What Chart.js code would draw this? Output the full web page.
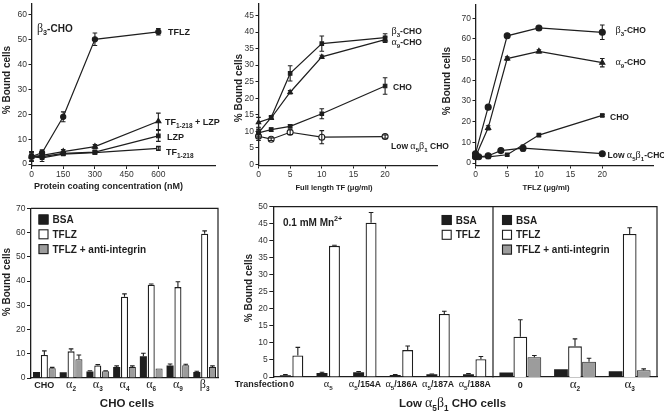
<!DOCTYPE html>
<html><head><meta charset="utf-8">
<script src="https://cdn.jsdelivr.net/npm/chart.js@4/dist/chart.umd.min.js"></script>
<style>
html,body{margin:0;padding:0;background:#fff;width:664px;height:413px;overflow:hidden}
#wrap{position:relative;width:664px;height:413px;background:#fff}
canvas{position:absolute;left:0;top:0}
</style>
</head><body><div id="wrap"></div>
<script>
// ---------------- DATA ----------------
// Panel A: beta3-CHO binding vs protein coating concentration (nM)
const aConc = [0, 50, 150, 300, 600];
const aXTicks = [0, 150, 300, 450, 600];
const aYTicks = [0, 10, 20, 30, 40, 50, 60];
const aNames = ['TFLZ', 'TF_{1-218} + LZP', 'LZP', 'TF_{1-218}'];
const aTFLZ = [3, 4.5, 19, 50.2, 53.2];
const aTFLZErr = [2, 1.2, 2, 2.5, 1.3];
const aTFLZP = [3, 3.5, 5, 7, 17.2];
const aTFLZPErr = [2, 1, 0.8, 0.8, 3.3];
const aLZP = [3, 3, 4.3, 4.8, 11.3];
const aLZPErr = [1.5, 1, 0.7, 0.7, 2.2];
const aTF = [3, 2.5, 4, 4.6, 6.3];
const aTFErr = [1.5, 1.5, 0.5, 0.5, 0.8];

// Panel B: full length TF (ug/ml)
const bConc = [0, 2, 5, 10, 20];
const bXTicks = [0, 5, 10, 15, 20];
const bYTicks = [0, 5, 10, 15, 20, 25, 30, 35, 40, 45];
const bNames = ['β_{3}-CHO', 'α_{9}-CHO', 'CHO', 'Low α_{5}β_{1} CHO'];
const bB3 = [9.5, 14.2, 27.5, 36.5, 38.3];
const bB3Err = [1, 0.5, 2.3, 2.3, 1.2];
const bA9 = [12.7, 14, 21.8, 32.5, 37.7];
const bA9Err = [1.5, 0.4, 0.5, 0.5, 0.8];
const bCHO = [9.5, 10.5, 11.5, 15.3, 23.7];
const bCHOErr = [1.5, 0.5, 0.5, 1.5, 2.5];
const bLow = [8.5, 7.6, 9.7, 8.2, 8.4];
const bLowErr = [1.3, 0.4, 0.7, 2, 0.5];

// Panel C: TFLZ (ug/ml)
const cConc = [0, 2, 5, 10, 20];
const cLowConc = [0, 0.5, 2, 4, 7.5, 20];
const cXTicks = [0, 5, 10, 15, 20];
const cYTicks = [0, 10, 20, 30, 40, 50, 60, 70];
const cNames = ['β_{3}-CHO', 'α_{9}-CHO', 'CHO', 'Low α_{5}β_{1}-CHO'];
const cB3 = [4.5, 27, 61.5, 65.3, 63.2];
const cB3Err = [1, 0.5, 0.8, 0.8, 3.5];
const cA9 = [3, 17, 50.5, 54, 48.5];
const cA9Err = [0.5, 1, 0.8, 0.8, 2];
const cCHO = [3, 3, 4, 13.5, 23];
const cCHOErr = [0.5, 0.5, 0.5, 0.5, 0.5];
const cLow = [3, 3, 3.5, 6, 7.2, 4.5];
const cLowErr = [0.5, 0.5, 0.5, 0.5, 1.5, 0.5];

// Panel D: CHO cells
const dCats = ['CHO', 'α_{2}', 'α_{3}', 'α_{4}', 'α_{6}', 'α_{9}', 'β_{3}'];
const dYTicks = [0, 10, 20, 30, 40, 50, 60, 70];
const groupNames = ['BSA', 'TFLZ', 'TFLZ + anti-integrin'];
const dBSA = [2.5, 2.4, 2.7, 4.5, 9, 5.2, 2.5];
const dBSAErr = [0, 0, 0.3, 0.5, 1.2, 0.6, 0.3];
const dTFLZ = [9.5, 11, 5.2, 33.5, 38.5, 37.5, 59.5];
const dTFLZErr = [1.7, 1, 0.3, 1.2, 0.3, 2.2, 1.2];
const dAnti = [4, 7.7, 2.8, 4.5, 3.9, 5.3, 4.5];
const dAntiErr = [0.4, 1.8, 0.2, 0.5, 0, 0.4, 0.5];

// Panel E: Low a5b1 CHO cells, 0.1 mM Mn2+
const eCats = ['0', 'α_{5}', 'α_{5}/154A', 'α_{5}/186A', 'α_{5}/187A', 'α_{5}/188A'];
const eYTicks = [0, 5, 10, 15, 20, 25, 30, 35, 40, 45, 50];
const eBSA = [0.5, 1.2, 1.4, 0.6, 0.8, 0.8];
const eBSAErr = [0.2, 0.2, 0.2, 0.1, 0.1, 0.2];
const eTFLZ = [6.3, 38.5, 45.3, 7.9, 18.5, 5.2];
const eTFLZErr = [2.4, 0.2, 3, 1.2, 0.8, 0.8];

// Panel F: Low a5b1 CHO cells transfected
const fCats = ['0', 'α_{2}', 'α_{3}'];
const fBSA = [1.3, 2.3, 1.7];
const fBSAErr = [0, 0, 0];
const fTFLZ = [11.8, 9, 42];
const fTFLZErr = [5, 2.2, 1.8];
const fAnti = [5.8, 4.5, 2];
const fAntiErr = [0.5, 1, 0.4];

// ---------------- STYLE / HELPERS ----------------
const SANS = '"Liberation Sans", Arial, Helvetica, sans-serif';
const SERIF = '"Liberation Serif", "DejaVu Serif", serif';
const INK = '#1e1e1e';
const GREY = '#9c9c9c';
const W = 664, H = 413;
const plain = s => s.replace(/[_^]\{([^}]*)\}/g, '$1');

function parseRich(s) {
  const out = []; let buf = '', i = 0;
  const flush = () => { if (buf) { out.push({t: buf, k: 'n'}); buf = ''; } };
  while (i < s.length) {
    const ch = s[i];
    if ((ch === '_' || ch === '^') && s[i + 1] === '{') {
      flush();
      const j = s.indexOf('}', i);
      out.push({t: s.slice(i + 2, j), k: ch === '_' ? 'sub' : 'sup'});
      i = j + 1; continue;
    }
    if (ch === 'α' || ch === 'β') { flush(); out.push({t: ch, k: 'g'}); i++; continue; }
    buf += ch; i++;
  }
  flush();
  return out;
}
function segFont(g, o) {
  const w = o.bold === false ? '' : 'bold ';
  if (g.k === 'g') return (o.size * (o.gs || 1.2)).toFixed(2) + 'px ' + SERIF;
  if (g.k === 'sub' || g.k === 'sup') return w + (o.size * 0.72).toFixed(2) + 'px ' + SANS;
  return w + o.size + 'px ' + SANS;
}
function drawRich(ctx, s, x, y, o) {
  const segs = parseRich(s);
  ctx.save();
  ctx.fillStyle = o.color || INK;
  ctx.textBaseline = 'alphabetic';
  ctx.textAlign = 'left';
  let total = 0;
  segs.forEach(g => { ctx.font = segFont(g, o); g.w = ctx.measureText(g.t).width; total += g.w; });
  ctx.translate(x, y);
  if (o.rot) ctx.rotate(o.rot);
  let cx = o.align === 'center' ? -total / 2 : (o.align === 'right' ? -total : 0);
  const base = o.size * 0.36;
  segs.forEach(g => {
    ctx.font = segFont(g, o);
    let dy = 0;
    if (g.k === 'sub') dy = o.size * 0.3;
    if (g.k === 'sup') dy = -o.size * 0.42;
    ctx.fillText(g.t, cx, base + dy);
    cx += g.w;
  });
  ctx.restore();
}

// ---------------- PLUGINS ----------------
const notesPlugin = {
  id: 'notes',
  afterDraw(chart, args, opts) {
    (opts.items || []).forEach(it => drawRich(chart.ctx, it.s, it.x, it.y, it));
  }
};
const catsPlugin = {
  id: 'cats',
  afterDraw(chart, args, opts) {
    if (!opts.labels) return;
    const xs = chart.scales.x;
    opts.labels.forEach((lab, i) => {
      drawRich(chart.ctx, lab, xs.getPixelForValue(i), opts.y, {size: opts.size || 9, align: 'center', gs: opts.gs || 1.2});
    });
  }
};
const errPlugin = {
  id: 'errs',
  afterDatasetsDraw(chart) {
    const ctx = chart.ctx;
    chart.data.datasets.forEach((ds, di) => {
      if (!ds.err) return;
      const meta = chart.getDatasetMeta(di);
      const ys = chart.scales[meta.yAxisID];
      ctx.save();
      ctx.strokeStyle = INK; ctx.lineWidth = 1.1;
      meta.data.forEach((el, i) => {
        const e = ds.err[i]; if (!e) return;
        const raw = ds.data[i];
        const v = typeof raw === 'object' ? raw.y : raw;
        const x = el.x;
        const top = ys.getPixelForValue(v + e);
        const bot = ds.errUp ? el.y : ys.getPixelForValue(v - e);
        const hw = ds.capHalf || 2.3;
        ctx.beginPath();
        ctx.moveTo(x, top); ctx.lineTo(x, bot);
        ctx.moveTo(x - hw, top); ctx.lineTo(x + hw, top);
        if (!ds.errUp) { ctx.moveTo(x - hw, bot); ctx.lineTo(x + hw, bot); }
        ctx.stroke();
      });
      ctx.restore();
    });
  }
};
const boxPlugin = {
  id: 'box',
  afterDraw(chart, args, opts) {
    if (!opts.on) return;
    const a = chart.chartArea, ctx = chart.ctx;
    ctx.save(); ctx.strokeStyle = INK; ctx.lineWidth = 1.2;
    ctx.beginPath();
    ctx.moveTo(a.left, a.top); ctx.lineTo(a.right, a.top);
    ctx.lineTo(a.right, a.bottom);
    ctx.stroke(); ctx.restore();
  }
};
const keysPlugin = {
  id: 'keys',
  afterDraw(chart, args, opts) {
    if (opts.x === undefined) return;
    const ctx = chart.ctx;
    chart.data.datasets.forEach((ds, i) => {
      const cy = opts.y + i * opts.dy;
      ctx.save();
      ctx.fillStyle = ds.backgroundColor; ctx.strokeStyle = INK; ctx.lineWidth = 1.1;
      ctx.fillRect(opts.x, cy - 5, 10, 10);
      ctx.strokeRect(opts.x + 0.5, cy - 4.5, 9, 9);
      ctx.restore();
      drawRich(ctx, ds.label, opts.x + 14, cy, {size: 10});
    });
  }
};

function newCanvas() {
  const c = document.createElement('canvas');
  c.width = W; c.height = H;
  document.getElementById('wrap').appendChild(c);
  return c;
}

function yScale(cfg, tickLen) {
  return {
    type: 'linear', min: cfg.yMin, max: cfg.yMax, bounds: 'data',
    display: cfg.yHidden ? false : true,
    afterBuildTicks: s => { s.ticks = cfg.yTicks.map(v => ({value: v})); },
    ticks: {font: {family: SANS, size: 8.5}, color: '#333', padding: 1.5},
    grid: {display: true, drawOnChartArea: false, drawTicks: true, tickLength: tickLen, color: INK, lineWidth: 1},
    border: {display: true, color: INK, width: 1.3},
    afterFit: s => { s.width = cfg.yHidden ? 0 : cfg.yW; s.paddingTop = 0; s.paddingBottom = 0; s.paddingLeft = 0; s.paddingRight = 0; }
  };
}

function baseOptions(cfg) {
  return {
    responsive: false, animation: false, events: [],
    layout: {autoPadding: false, padding: {left: cfg.l - (cfg.yHidden ? 0 : cfg.yW), top: cfg.t, right: W - cfg.r, bottom: H - cfg.b - cfg.xH}},
    plugins: {
      legend: {display: false}, tooltip: {enabled: false},
      notes: {items: cfg.notes || []},
      cats: {labels: cfg.cats, y: cfg.catY, size: cfg.catSize, gs: cfg.gs},
      box: {on: !!cfg.box},
      keys: cfg.keys || {}
    }
  };
}

function lineChart(cfg) {
  const opts = baseOptions(cfg);
  opts.scales = {
    x: {
      type: 'linear', min: cfg.xMin, max: cfg.xMax, bounds: 'data',
      afterBuildTicks: s => { s.ticks = cfg.xTicks.map(v => ({value: v})); },
      ticks: {font: {family: SANS, size: 8.5}, color: '#333', padding: 1, maxRotation: 0, autoSkip: false},
      grid: {display: true, drawOnChartArea: false, drawTicks: true, tickLength: 3, color: INK, lineWidth: 1},
      border: {display: true, color: INK, width: 1.3},
      afterFit: s => { s.height = cfg.xH; s.paddingLeft = 0; s.paddingRight = 0; s.paddingTop = 0; s.paddingBottom = 0; }
    },
    y: yScale(cfg, 3)
  };
  return new Chart(newCanvas(), {
    type: 'line',
    data: {datasets: cfg.series.map(s => ({
      label: plain(s.label),
      data: s.x.map((xv, i) => ({x: xv, y: s.y[i]})),
      err: s.err,
      borderColor: INK, borderWidth: 1.2, tension: 0, fill: false, clip: false,
      pointStyle: s.marker, pointRadius: s.r || 2.5,
      pointBackgroundColor: s.open ? '#fff' : INK, pointBorderColor: INK, pointBorderWidth: 1.1
    }))},
    options: opts,
    plugins: [errPlugin, notesPlugin]
  });
}

function barChart(cfg) {
  const opts = baseOptions(cfg);
  opts.scales = {
    x: {
      type: 'category', offset: true,
      ticks: {display: false},
      grid: {display: false},
      border: {display: true, color: INK, width: 1.3},
      afterFit: s => { s.height = cfg.xH; s.paddingLeft = 0; s.paddingRight = 0; s.paddingTop = 0; s.paddingBottom = 0; }
    },
    y: yScale(cfg, 4)
  };
  return new Chart(newCanvas(), {
    type: 'bar',
    data: {
      labels: cfg.cats.map(plain),
      datasets: cfg.series.map(s => ({
        label: s.label, data: s.y, err: s.err, errUp: true, capHalf: 2.3,
        backgroundColor: s.fill, borderColor: INK, borderWidth: s.bw,
        barPercentage: cfg.barPct, categoryPercentage: cfg.catPct
      }))
    },
    options: opts,
    plugins: [errPlugin, notesPlugin, catsPlugin, boxPlugin, keysPlugin]
  });
}

const ROT = -Math.PI / 2;

// ---------------- PANEL A ----------------
lineChart({
  l: 31.5, r: 215, t: 4, b: 166, yW: 28, xH: 14,
  xMin: 0, xMax: 868, yMin: -0.8, yMax: 64.4, xTicks: aXTicks, yTicks: aYTicks,
  series: [
    {label: aNames[0], x: aConc, y: aTFLZ, err: aTFLZErr, marker: 'circle', r: 2.6},
    {label: aNames[1], x: aConc, y: aTFLZP, err: aTFLZPErr, marker: 'triangle', r: 3},
    {label: aNames[2], x: aConc, y: aLZP, err: aLZPErr, marker: 'rect', r: 2.5},
    {label: aNames[3], x: aConc, y: aTF, err: aTFErr, marker: 'rect', r: 2.4, open: true}
  ],
  notes: [
    {s: 'β_{3}-CHO', x: 37, y: 28, size: 10},
    {s: aNames[0], x: 168, y: 32, size: 9},
    {s: aNames[1], x: 165, y: 122, size: 9},
    {s: aNames[2], x: 167, y: 137, size: 9},
    {s: aNames[3], x: 166, y: 152, size: 9},
    {s: 'Protein coating concentration (nM)', x: 108.5, y: 185.5, size: 9, align: 'center'},
    {s: '% Bound cells', x: 6, y: 80, size: 10, align: 'center', rot: ROT}
  ]
});

// ---------------- PANEL B ----------------
lineChart({
  l: 258.5, r: 437, t: 4, b: 165.5, yW: 22, xH: 14,
  xMin: 0, xMax: 28.2, yMin: -0.36, yMax: 48.5, xTicks: bXTicks, yTicks: bYTicks,
  series: [
    {label: bNames[0], x: bConc, y: bB3, err: bB3Err, marker: 'rect', r: 2.5},
    {label: bNames[1], x: bConc, y: bA9, err: bA9Err, marker: 'triangle', r: 2.6},
    {label: bNames[2], x: bConc, y: bCHO, err: bCHOErr, marker: 'rect', r: 2.5},
    {label: bNames[3], x: bConc, y: bLow, err: bLowErr, marker: 'circle', r: 3, open: true}
  ],
  notes: [
    {s: bNames[0], x: 391.5, y: 31, size: 8.5},
    {s: bNames[1], x: 391.5, y: 42, size: 8.5},
    {s: bNames[2], x: 393, y: 87, size: 8.5},
    {s: bNames[3], x: 391, y: 146, size: 8.5},
    {s: 'Full length TF (μg/ml)', x: 334, y: 187, size: 7.6, align: 'center'},
    {s: '% Bound cells', x: 238, y: 88, size: 10, align: 'center', rot: ROT}
  ]
});

// ---------------- PANEL C ----------------
lineChart({
  l: 475.5, r: 653, t: 5, b: 165.5, yW: 22, xH: 14,
  xMin: 0, xMax: 28, yMin: -1.2, yMax: 76.4, xTicks: cXTicks, yTicks: cYTicks,
  series: [
    {label: cNames[0], x: cConc, y: cB3, err: cB3Err, marker: 'circle', r: 3},
    {label: cNames[1], x: cConc, y: cA9, err: cA9Err, marker: 'triangle', r: 3},
    {label: cNames[2], x: cConc, y: cCHO, err: cCHOErr, marker: 'rect', r: 2.5},
    {label: cNames[3], x: cLowConc, y: cLow, err: cLowErr, marker: 'circle', r: 3}
  ],
  notes: [
    {s: cNames[0], x: 615.5, y: 30, size: 8.5},
    {s: cNames[1], x: 615.5, y: 62, size: 8.5},
    {s: cNames[2], x: 610, y: 116.5, size: 8.5},
    {s: cNames[3], x: 607.5, y: 155, size: 8.5},
    {s: 'TFLZ (μg/ml)', x: 546, y: 187, size: 7.8, align: 'center'},
    {s: '% Bound cells', x: 446.5, y: 81, size: 10, align: 'center', rot: ROT}
  ]
});

// ---------------- PANEL D ----------------
barChart({
  l: 31, r: 218, t: 208.3, b: 378, yW: 28, xH: 20,
  yMin: 0, yMax: 70, yTicks: dYTicks,
  cats: dCats, catY: 385, catSize: 9, gs: 1.35,
  barPct: 0.9, catPct: 0.88, box: true,
  keys: {x: 38.5, y: 219.5, dy: 14.8},
  series: [
    {label: groupNames[0], y: dBSA, err: dBSAErr, fill: INK, bw: 0},
    {label: groupNames[1], y: dTFLZ, err: dTFLZErr, fill: '#ffffff', bw: 1.3},
    {label: groupNames[2], y: dAnti, err: dAntiErr, fill: GREY, bw: 1}
  ],
  notes: [
    {s: '% Bound cells', x: 6, y: 282, size: 10, align: 'center', rot: ROT},
    {s: 'CHO cells', x: 127, y: 403, size: 11.5, align: 'center'}
  ]
});

// ---------------- PANEL E (left part) ----------------
barChart({
  l: 273.3, r: 493, t: 206.7, b: 377, yW: 26, xH: 20,
  yMin: 0, yMax: 50, yTicks: eYTicks,
  cats: eCats, catY: 384, catSize: 8.7, gs: 1.2,
  barPct: 0.88, catPct: 0.68, box: true,
  keys: {x: 441.7, y: 220, dy: 14.8},
  series: [
    {label: groupNames[0], y: eBSA, err: eBSAErr, fill: INK, bw: 0},
    {label: groupNames[1], y: eTFLZ, err: eTFLZErr, fill: '#ffffff', bw: 1.3}
  ],
  notes: [
    {s: '% Bound cells', x: 248, y: 288, size: 10, align: 'center', rot: ROT},
    {s: '0.1 mM Mn^{2+}', x: 283, y: 222, size: 10},
    {s: 'Transfection', x: 261.5, y: 384, size: 9, align: 'center'},
    {s: 'Low α_{5}β_{1} CHO cells', x: 452.5, y: 403, size: 11.5, align: 'center'}
  ]
});

// ---------------- PANEL E (right part) ----------------
barChart({
  l: 493, r: 657, t: 206.7, b: 377, yW: 0, xH: 20, yHidden: true,
  yMin: 0, yMax: 50, yTicks: eYTicks,
  cats: fCats, catY: 385, catSize: 9, gs: 1.45,
  barPct: 0.98, catPct: 0.77, box: true,
  keys: {x: 502, y: 220, dy: 14.8},
  series: [
    {label: groupNames[0], y: fBSA, err: fBSAErr, fill: INK, bw: 0},
    {label: groupNames[1], y: fTFLZ, err: fTFLZErr, fill: '#ffffff', bw: 1.3},
    {label: groupNames[2], y: fAnti, err: fAntiErr, fill: GREY, bw: 1}
  ],
  notes: []
});
</script>
</body></html>
